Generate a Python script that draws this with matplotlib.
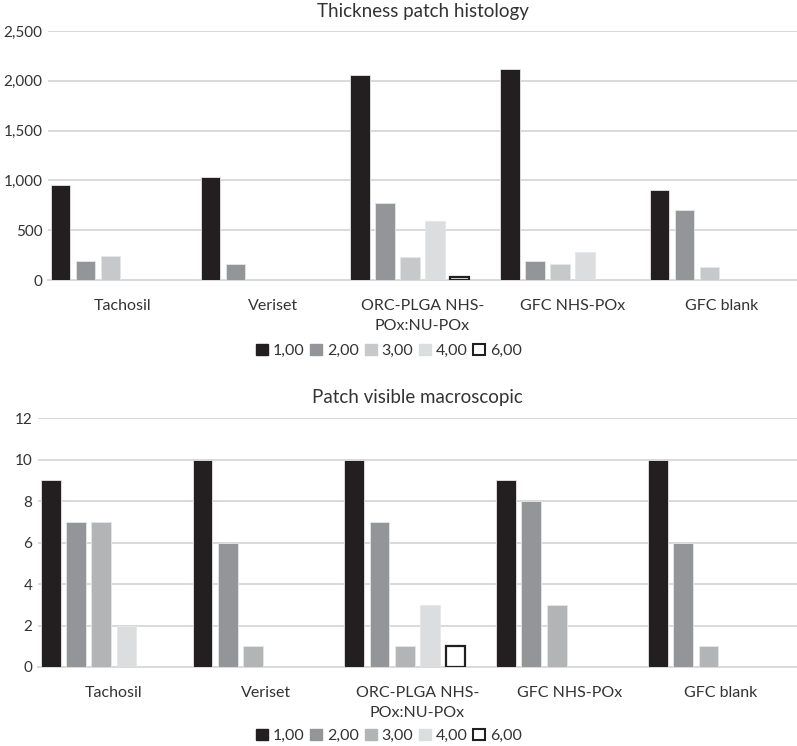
import matplotlib
matplotlib.use("Agg")
import matplotlib.pyplot as plt
from matplotlib.ticker import FuncFormatter
from matplotlib.patches import Patch
import numpy as np

plt.rcParams['font.family'] = ['Lato', 'DejaVu Sans']

categories = ["Tachosil", "Veriset", "ORC-PLGA NHS-\nPOx:NU-POx", "GFC NHS-POx", "GFC blank"]
series_names = ["1,00", "2,00", "3,00", "4,00", "6,00"]

thickness = {
    "1,00": [958, 1035, 2060, 2115, 900],
    "2,00": [190, 160, 770, 188, 700],
    "3,00": [238, 0, 232, 160, 130],
    "4,00": [0, 0, 592, 283, 0],
    "6,00": [0, 0, 28, 0, 0],
}
visible = {
    "1,00": [9, 10, 10, 9, 10],
    "2,00": [7, 6, 7, 8, 6],
    "3,00": [7, 1, 1, 3, 1],
    "4,00": [2, 0, 3, 0, 0],
    "6,00": [0, 0, 1, 0, 0],
}

top_colors = ["#231f20", "#939598", "#c7c8c9", "#dcddde", "white"]
bot_colors = ["#231f20", "#939598", "#b2b4b6", "#dcddde", "white"]

fig = plt.figure(figsize=(7.97, 7.46), dpi=100)
W, H = 797, 746

def make_axes(left, top, right, bottom):
    return fig.add_axes([left / W, 1 - bottom / H, (right - left) / W, (bottom - top) / H])

ax1 = make_axes(48, 31, 797, 280)
ax2 = make_axes(38, 418, 797, 667)

def draw(ax, data, colors, ymax, step, fmt, title, title_y, legend_y):
    x = np.arange(len(categories))
    slot = 1 / 6
    for i, name in enumerate(series_names):
        vals = np.array(data[name], dtype=float)
        pos = x - 0.5 + slot * (i + 0.5)
        mask = vals > 0
        if name == "6,00":
            ax.bar(pos[mask], vals[mask], width=slot * 0.76, color="white",
                   edgecolor="#231f20", linewidth=1.6, zorder=3)
        else:
            ax.bar(pos[mask], vals[mask], width=slot * 0.78, color=colors[i],
                   edgecolor="#e6e6e6", linewidth=0.6, zorder=3)
    ax.set_xlim(-0.5, len(categories) - 0.5)
    ax.set_ylim(0, ymax)
    ax.set_yticks(np.arange(0, ymax + step / 2, step))
    ax.yaxis.set_major_formatter(FuncFormatter(fmt))
    ax.grid(axis="y", color="#d9d9d9", linewidth=1.4, zorder=0)
    ax.set_axisbelow(True)
    for s in ["top", "right", "left"]:
        ax.spines[s].set_visible(False)
    ax.spines["bottom"].set_color("#d9d9d9")
    ax.spines["bottom"].set_linewidth(1.4)
    ax.tick_params(axis="y", length=0, labelsize=11, colors="#333333", pad=4)
    ax.tick_params(axis="x", length=0, labelsize=11.5, colors="#333333", pad=14)
    ax.set_xticks(x)
    ax.set_xticklabels(categories, linespacing=1.55, va="top")
    fig.text(0.5 * (ax.get_position().x0 + ax.get_position().x1), 1 - title_y / H, title,
             ha="center", va="center", fontsize=13.5, color="#333333")
    handles = []
    for i, name in enumerate(series_names):
        if name == "6,00":
            handles.append(Patch(facecolor="white", edgecolor="#231f20", linewidth=1.5, label=name))
        else:
            handles.append(Patch(facecolor=colors[i], edgecolor=colors[i], label=name))
    fig.legend(handles=handles, loc="center", bbox_to_anchor=(389 / W, 1 - legend_y / H),
               ncol=5, frameon=False, fontsize=11.5, handlelength=0.75, handleheight=0.75,
               handletextpad=0.3, columnspacing=0.35, labelcolor="#333333")

draw(ax1, thickness, top_colors, 2500, 500, lambda v, p: f"{int(v):,}",
     "Thickness patch histology", 12, 351)
draw(ax2, visible, bot_colors, 12, 2, lambda v, p: f"{int(v)}",
     "Patch visible macroscopic", 397, 736)

fig.savefig("out.png", dpi=100)
